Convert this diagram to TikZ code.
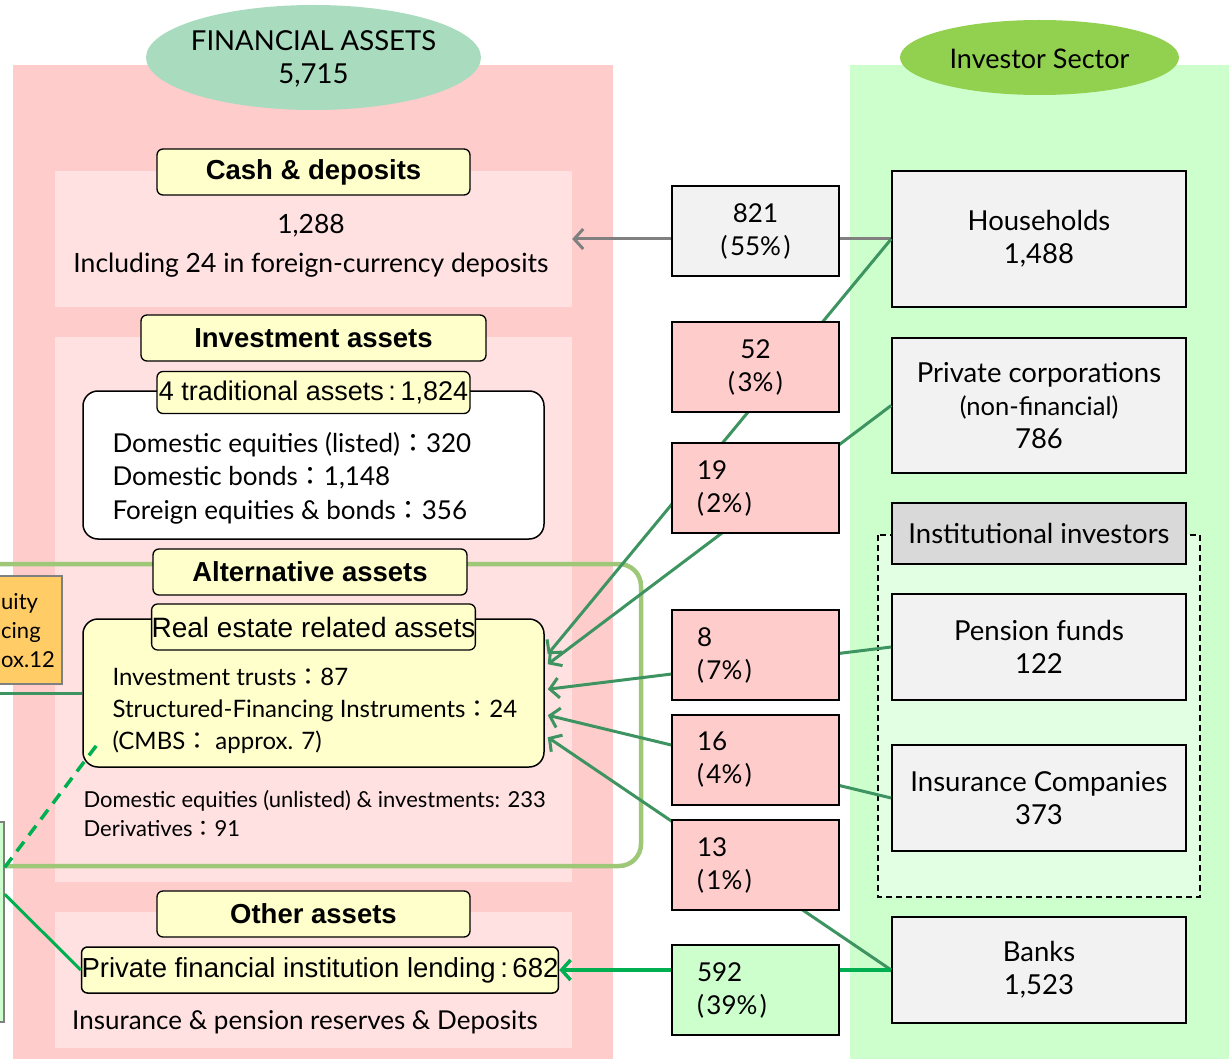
\documentclass[tikz,border=0pt]{standalone}
\usepackage{fontspec}
\setmainfont{Lato}
\newfontfamily\arialf{Liberation Sans}
\newfontfamily\cjkf{Noto Sans CJK JP}
\usetikzlibrary{arrows.meta,shapes.geometric,calc}
\definecolor{pinkbg}{HTML}{FFCCCC}
\definecolor{lpink}{HTML}{FFE1E1}
\definecolor{greenbg}{HTML}{CCFFCC}
\definecolor{lgreen}{HTML}{E3FFE3}
\definecolor{ellA}{HTML}{A9DBBF}
\definecolor{ellB}{HTML}{92D050}
\definecolor{yel}{HTML}{FFFFCC}
\definecolor{boxgray}{HTML}{F2F2F2}
\definecolor{hdrgray}{HTML}{D9D9D9}
\definecolor{orng}{HTML}{FFCC66}
\definecolor{altgreen}{HTML}{9EC878}
\definecolor{cgreen}{HTML}{3E9461}
\definecolor{bgreen}{HTML}{00B050}
\definecolor{arrgray}{HTML}{808080}
\newcommand{\zcolon}{{\cjkf ：}}
\newcommand{\pct}[1]{(\kern2.5pt#1\%\kern2.5pt)}
\tikzset{
  mbox/.style={draw=black, line width=1.6pt, minimum width=167pt, minimum height=90pt, inner sep=0pt},
  lmbox/.style={mbox, align=left, text width=117pt, inner xsep=25pt},
  rbox/.style={draw=black, line width=1.6pt, fill=boxgray, minimum width=294pt, inner sep=0pt, align=center, font=\fontsize{27.5}{33}\selectfont},
  lbl/.style={draw=black, line width=1.3pt, fill=yel, rounded corners=6pt, minimum height=46pt, inner sep=0pt, font=\arialf\bfseries\fontsize{27.5}{33}\selectfont},
  sublbl/.style={draw=black, line width=1.3pt, fill=yel, rounded corners=6pt, minimum width=313pt, inner sep=0pt},
  conn/.style={draw=cgreen, line width=3pt},
  arr/.style={-{Straight Barb[length=9pt,width=20pt]}},
  lpbg/.style={fill=lpink, inner sep=0pt, minimum width=517pt},
  eqtxt/.style={anchor=base west, inner sep=0pt, font=\fontsize{22}{28.5}\selectfont}
}
\begin{document}
\begin{tikzpicture}[x=1pt,y=-1pt, font=\fontsize{26}{33}\selectfont]
\useasboundingbox (0,0) rectangle (1229,1059);
\clip (0,0) rectangle (1229,1059);
% big backgrounds
\fill[pinkbg] (13,65) rectangle (613,1059);
\fill[greenbg] (850,65) rectangle (1229,1059);
\node[lpbg, minimum height=136pt] (cashbg) at (313.5,239) {};
\node[lpbg, minimum height=545pt] (invbg) at (313.5,609.5) {};
\node[lpbg, minimum height=136pt] (othbg) at (313.5,980) {};
% title ellipses
\node[ellipse, fill=ellA, minimum width=335pt, minimum height=105pt, inner sep=0pt] (fa) at (313.5,57.5) {};
\node[align=center, font=\fontsize{27.5}{33}\selectfont] at (313.5,59) {FINANCIAL ASSETS\\5,715};
\node[ellipse, fill=ellB, minimum width=279pt, minimum height=75pt, inner sep=0pt] (is) at (1039.5,57.5) {};
\node[font=\fontsize{27}{33}\selectfont] at (1039.5,59) {Investor Sector};
% institutional dashed region
\draw[line width=1.4pt, dash pattern=on 6pt off 4pt, fill=lgreen] (878,535) rectangle (1200,897);
% alternative outline
\draw[altgreen, line width=4.5pt, rounded corners=22pt] (-30,564) rectangle (641,866);
% left partial boxes
\node[draw=arrgray, line width=1.5pt, fill=orng, minimum width=122pt, minimum height=108pt, inner sep=0pt] (eq) at (1,630) {};
\node[eqtxt] (eq1) at (1,609) {uity};
\node[eqtxt] (eq2) at (1,638) {cing};
\node[eqtxt] (eq3) at (1,667) {ox.12};
\node[draw=arrgray, line width=1.5pt, fill=greenbg, minimum width=64pt, minimum height=200pt, inner sep=0pt] (lg) at (-28,922) {};
% cash section
\node[align=center, font=\fontsize{26.5}{39}\selectfont] (cashtxt) at (311,246) {1,288\\Including 24 in foreign-currency deposits};
\node[lbl, minimum width=313pt] (cashl) at (313.5,172) {Cash \& deposits};
% investment section
\node[lbl, minimum width=345pt] (invl) at (313.5,338) {Investment assets};
\node[draw=black, line width=1.5pt, fill=white, rounded corners=15pt, minimum width=461pt, minimum height=148pt, inner sep=0pt] (trad) at (313.5,465) {};
\node[anchor=west, align=left, font=\fontsize{26}{33.5}\selectfont] at (109,478) {Domestic equities (listed)\zcolon 320\\Domestic bonds\zcolon 1,148\\Foreign equities \& bonds\zcolon 356};
\node[sublbl, minimum height=42pt, font=\arialf\fontsize{27}{31}\selectfont] (tradl) at (313.5,392.5) {4 traditional assets\,:\,1,824};
% alternative section
\node[lbl, minimum width=314pt] (altl) at (310,572) {Alternative assets};
\node[draw=black, line width=1.5pt, fill=yel, rounded corners=15pt, minimum width=461pt, minimum height=148pt, inner sep=0pt] (re) at (313.5,693) {};
\node[anchor=west, align=left, font=\fontsize{24}{32}\selectfont] at (109,711) {Investment trusts\zcolon 87\\Structured-Financing Instruments\zcolon 24\\(CMBS\zcolon\ approx. 7)};
\node[sublbl, minimum height=46pt, font=\arialf\fontsize{28}{31}\selectfont] (rel) at (313.5,627) {Real estate related assets};
\node[anchor=west, align=left, font=\fontsize{22}{29}\selectfont] at (80,814) {Domestic equities (unlisted) \& investments: 233\\Derivatives\zcolon 91};
% other section
\node[lbl, minimum width=313pt] (othl) at (313.5,914) {Other assets};
\node[draw=black, line width=1.5pt, fill=yel, rounded corners=6pt, minimum width=474pt, minimum height=46pt, inner sep=0pt, font=\arialf\fontsize{27.5}{31}\selectfont] (pfil) at (320,970) {Private financial institution lending\,:\,682};
\node (insr) at (305,1022) {Insurance \& pension reserves \& Deposits};
% right column boxes
\node[rbox, minimum height=136pt] (hh) at (1039,239) {Households\\1,488};
\node[rbox, minimum height=135pt] (pc) at (1039,405.5) {Private corporations\\{\fontsize{25.5}{33}\selectfont(non-financial)}\\786};
\node[rbox, fill=hdrgray, minimum height=61pt] (ii) at (1039,533.5) {Institutional investors};
\node[rbox, minimum height=106pt] (pf) at (1039,647) {Pension funds\\122};
\node[rbox, minimum height=106pt] (ic) at (1039,798) {Insurance Companies\\373};
\node[rbox, minimum height=106pt] (bk) at (1039,970) {Banks\\1,523};
% connectors (behind middle boxes)
\coordinate (t1) at ($(re.north east)+(3,36)$);
\coordinate (t2) at ($(re.north east)+(3,46)$);
\coordinate (t3) at ($(re.north east)+(3,71)$);
\coordinate (t4) at ($(re.north east)+(3,97)$);
\coordinate (t5) at ($(re.north east)+(3,119)$);
\coordinate (eqline) at (-20,693);
\draw[arrgray, line width=3pt, arr] (hh.west) -- (cashbg.east);
\draw[conn, arr] (hh.west) -- (t1);
\draw[conn, arr] (pc.west) -- (t2);
\draw[conn, arr] (pf.west) -- (t3);
\draw[conn, arr] (ic.west) -- (t4);
\draw[conn, arr] (bk.west) -- (t5);
\draw[bgreen, line width=3.5pt, arr] (bk.west) -- (pfil.east);
\draw[conn] (eqline) -- (re.west);
\draw[bgreen, line width=3.5pt, dash pattern=on 12pt off 8pt] ($(lg.north east)+(0,46)$) -- ($(re.south west)+(14,-22)$);
\draw[bgreen, line width=3pt] ($(lg.north east)+(0,73)$) -- (pfil.west);
% middle boxes
\node[mbox, fill=boxgray, align=center] (m821) at (755.5,231) {821\\\pct{55}};
\node[mbox, fill=pinkbg, align=center] (m52) at (755.5,367) {52\\\pct{3}};
\node[lmbox, fill=pinkbg] (m19) at (755.5,488) {19\\\pct{2}};
\node[lmbox, fill=pinkbg] (m8) at (755.5,655) {8\\\pct{7}};
\node[lmbox, fill=pinkbg] (m16) at (755.5,760) {16\\\pct{4}};
\node[lmbox, fill=pinkbg] (m13) at (755.5,865) {13\\\pct{1}};
\node[lmbox, fill=greenbg] (m592) at (755.5,990) {592\\\pct{39}};
\end{tikzpicture}
\end{document}
